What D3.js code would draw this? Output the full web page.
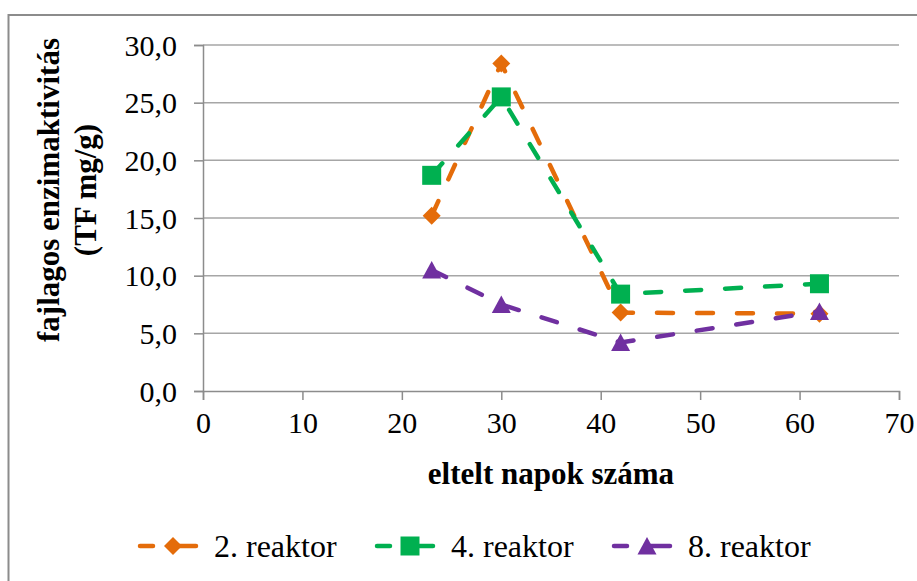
<!DOCTYPE html>
<html>
<head>
<meta charset="utf-8">
<script src="https://cdn.jsdelivr.net/npm/d3@7"></script>
<style>
  html, body { margin: 0; padding: 0; background: #fff; }
  svg { display: block; }
  svg text { font-family: "Liberation Serif", "Times New Roman", serif !important; fill: #000; }
</style>
</head>
<body>
<svg id="chart" width="917" height="581"></svg>
<script>
// Elapsed days at each sampling
const days = [23, 30, 42, 62];
// Specific enzyme activity (TF mg/g) per reactor
const reaktor2 = [15.2, 28.4, 6.8, 6.7];
const reaktor4 = [18.7, 25.5, 8.4, 9.3];
const reaktor8 = [10.5, 7.5, 4.2, 6.9];
const seriesNames = ["2. reaktor", "4. reaktor", "8. reaktor"];
const seriesColors = ["#e46c0a", "#00b050", "#7030a0"];
const seriesMarkers = ["diamond", "square", "triangle"];
const xTicks = [0, 10, 20, 30, 40, 50, 60, 70];
const yTicks = [0, 5, 10, 15, 20, 25, 30];

const series = [reaktor2, reaktor4, reaktor8].map((vals, i) => ({
  name: seriesNames[i], color: seriesColors[i], marker: seriesMarkers[i],
  points: days.map((d, j) => ({ x: d, y: vals[j] }))
}));

const svg = d3.select("#chart");
const grey = "#8c8c8c";
const serif = "Liberation Serif, Times New Roman, serif";

// chart frame
svg.append("rect")
  .attr("x", 8.5).attr("y", 15).attr("width", 920).attr("height", 580)
  .attr("fill", "none").attr("stroke", grey).attr("stroke-width", 2);

const plot = { left: 203, right: 899, top: 45, bottom: 391 };
const x = d3.scaleLinear().domain([0, 70]).range([plot.left, plot.right]);
const y = d3.scaleLinear().domain([0, 30]).range([plot.bottom, plot.top]);

// horizontal gridlines
svg.append("g").selectAll("line").data(yTicks.filter(t => t > 0)).join("line")
  .attr("x1", plot.left).attr("x2", plot.right)
  .attr("y1", d => y(d)).attr("y2", d => y(d))
  .attr("stroke", "#a6a6a6").attr("stroke-width", 1.5);

const fmtComma = d => d3.format(".1f")(d).replace(".", ",");

// y axis
const yAxis = svg.append("g")
  .attr("transform", `translate(${plot.left},0)`)
  .call(d3.axisLeft(y).tickValues(yTicks).tickSize(9).tickPadding(17).tickFormat(fmtComma));
// x axis
const xAxis = svg.append("g")
  .attr("transform", `translate(0,${plot.bottom})`)
  .call(d3.axisBottom(x).tickValues(xTicks).tickSize(9).tickPadding(12).tickFormat(d3.format("d")));

[yAxis, xAxis].forEach(a => {
  a.attr("font-family", serif).attr("font-size", 30);
  a.select(".domain").attr("stroke", grey).attr("stroke-width", 1.5);
  a.selectAll(".tick line").attr("stroke", grey).attr("stroke-width", 1.5);
  a.selectAll(".tick text").attr("font-family", serif).attr("font-size", 30).attr("fill", "#000");
});
yAxis.selectAll(".tick text").attr("dy", "0.34em");

// axis titles
svg.append("text")
  .attr("x", (plot.left + plot.right) / 2).attr("y", 484)
  .attr("text-anchor", "middle")
  .attr("font-family", serif).attr("font-size", 31).attr("font-weight", "bold")
  .text("eltelt napok száma");

const yTitle = svg.append("text")
  .attr("transform", "translate(59,190) rotate(-90)")
  .attr("text-anchor", "middle")
  .attr("font-family", serif).attr("font-size", 31).attr("font-weight", "bold");
yTitle.append("tspan").attr("x", 0).attr("y", 0).text("fajlagos enzimaktivitás");
yTitle.append("tspan").attr("x", 0).attr("y", 37).text("(TF mg/g)");

// marker shapes
function markerPath(type) {
  if (type === "diamond") return "M0,-9L9,0L0,9L-9,0Z";
  if (type === "square") return "M-9.5,-9.5H9.5V9.5H-9.5Z";
  return "M0,-9L9.5,8.5H-9.5Z";
}

const line = d3.line().x(d => x(d.x)).y(d => y(d.y));

series.forEach(s => {
  const g = svg.append("g");
  g.append("path")
    .attr("d", line(s.points))
    .attr("fill", "none").attr("stroke", s.color)
    .attr("stroke-width", 4.5).attr("stroke-linecap", "round")
    .attr("stroke-dasharray", "16,24");
  g.selectAll("path.marker").data(s.points).join("path")
    .attr("class", "marker")
    .attr("transform", d => `translate(${x(d.x)},${y(d.y)})`)
    .attr("d", markerPath(s.marker))
    .attr("fill", s.color);
});

// legend: short dash, marker, dash, label
const legendY = 546;
const legendX = [138, 375, 612];
series.forEach((s, i) => {
  const g = svg.append("g").attr("transform", `translate(${legendX[i]},${legendY})`);
  g.append("line").attr("x1", 2).attr("x2", 15).attr("y1", 0).attr("y2", 0)
    .attr("stroke", s.color).attr("stroke-width", 4.5).attr("stroke-linecap", "round");
  g.append("line").attr("x1", 36).attr("x2", 58).attr("y1", 0).attr("y2", 0)
    .attr("stroke", s.color).attr("stroke-width", 4.5).attr("stroke-linecap", "round");
  g.append("path").attr("transform", "translate(35,0)").attr("d", markerPath(s.marker))
    .attr("fill", s.color);
  g.append("text").attr("x", 76).attr("y", 0).attr("dy", "0.34em")
    .attr("font-family", serif).attr("font-size", 32).text(s.name);
});
</script>
</body>
</html>
